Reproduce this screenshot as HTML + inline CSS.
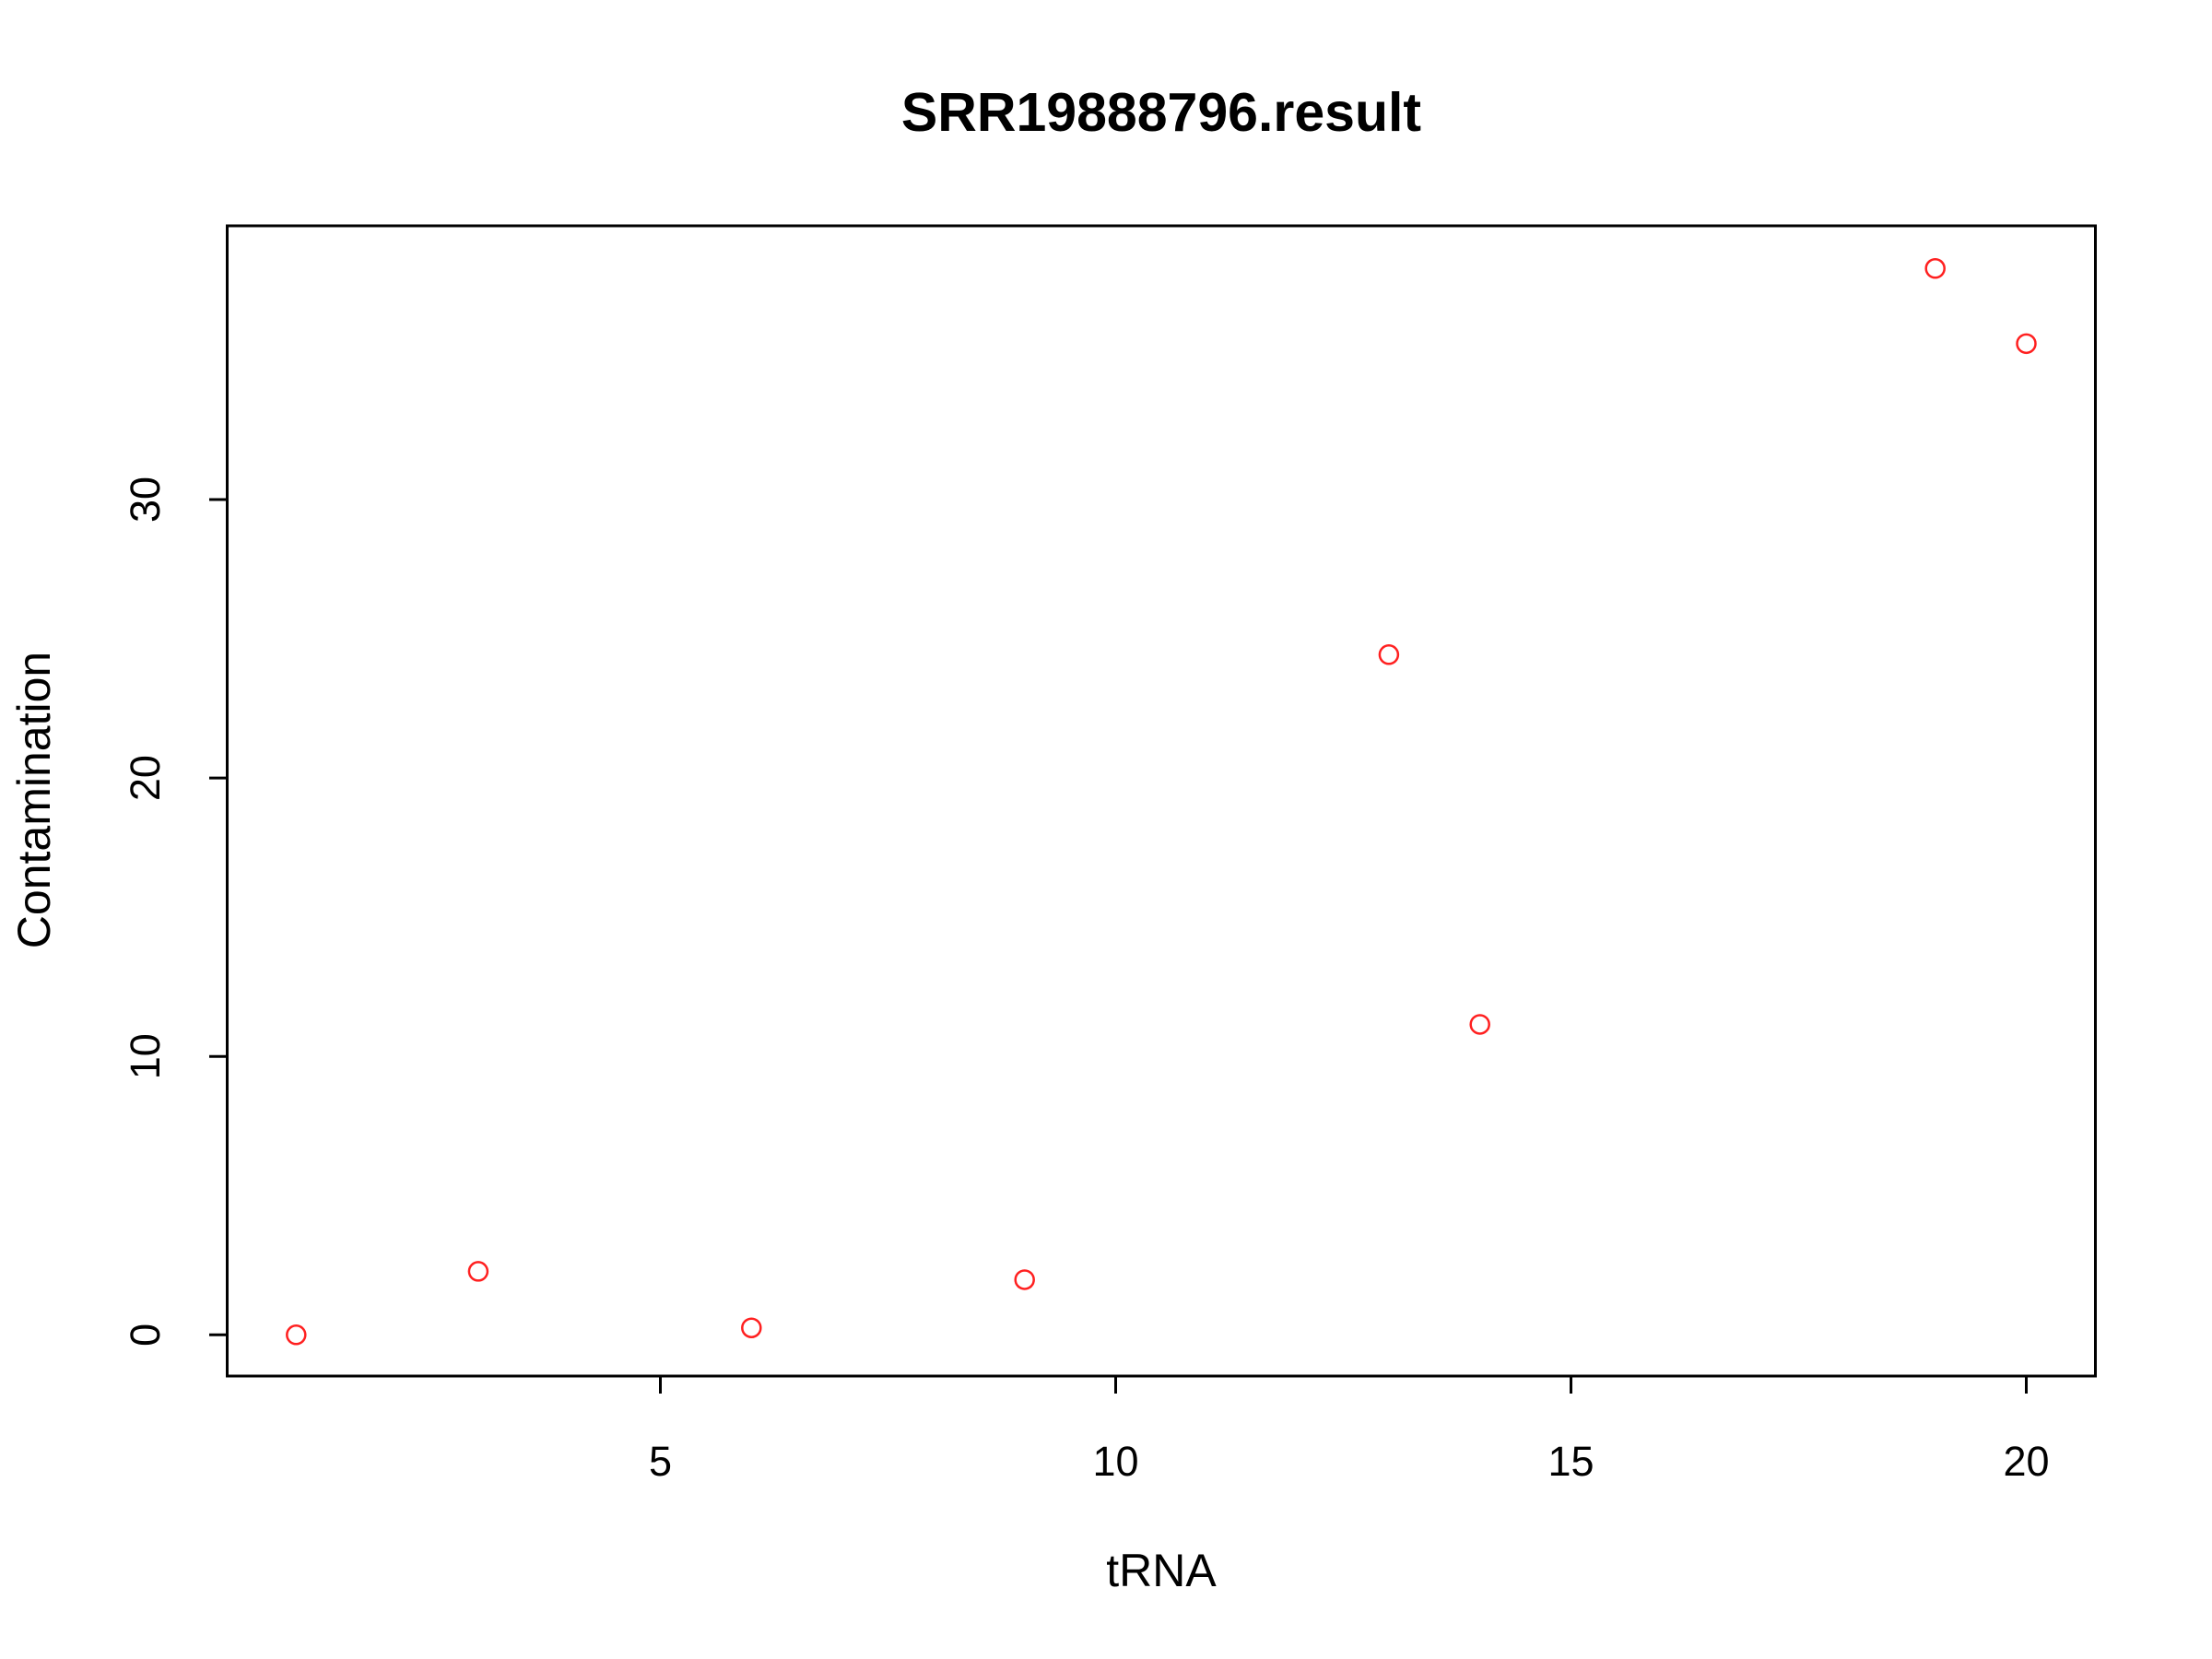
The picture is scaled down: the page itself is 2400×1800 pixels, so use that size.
<!DOCTYPE html>
<html><head><meta charset="utf-8"><style>html,body{margin:0;padding:0;background:#fff}svg{display:block}</style></head>
<body>
<svg width="2400" height="1800" xmlns="http://www.w3.org/2000/svg" font-family="Liberation Sans, sans-serif">
<rect width="2400" height="1800" fill="#fff"/>
<text x="1260" y="142" font-size="59" font-weight="bold" text-anchor="middle">SRR19888796.result</text>
<rect x="246.5" y="245" width="2027" height="1248" fill="none" stroke="#000" stroke-width="3"/>
<g id="xaxis"></g>
<g id="yaxis"></g>
<g id="pts"></g>
<text x="1260" y="1721" font-size="50" text-anchor="middle">tRNA</text>
<text transform="translate(54,868) rotate(-90)" font-size="50" text-anchor="middle">Contamination</text>
</svg>
<script>
const xTicks=[5,10,15,20];
const yTicks=[0,10,20,30];
const xValues=[1,3,6,9,13,14,19,20];
const yValues=[0,2.28,0.25,1.98,24.43,11.15,38.3,35.6];
const NS='http://www.w3.org/2000/svg';
function sx(v){return 716.5+(v-5)*(2198.5-716.5)/15;}
function sy(v){return 1448.3-v*(1448.3-542)/30;}
function mk(t,a,p){const e=document.createElementNS(NS,t);for(const k in a)e.setAttribute(k,a[k]);p.appendChild(e);return e;}
const xa=document.getElementById('xaxis'),ya=document.getElementById('yaxis'),pts=document.getElementById('pts');
mk('line',{x1:sx(xTicks[0]),x2:sx(xTicks[xTicks.length-1]),y1:1493,y2:1493,stroke:'#000','stroke-width':3},xa);
xTicks.forEach(t=>{
 const l=mk('line',{x1:sx(t),x2:sx(t),y1:1493,y2:1512,stroke:'#000','stroke-width':3},xa);
 
 
 const tx=mk('text',{x:sx(t),y:1601,'font-size':45,'text-anchor':'middle'},xa);tx.textContent=t;
 
 
});
mk('line',{x1:246.5,x2:246.5,y1:sy(yTicks[0]),y2:sy(yTicks[yTicks.length-1]),stroke:'#000','stroke-width':3},ya);
yTicks.forEach(t=>{
 const l=mk('line',{x1:227,x2:246.5,y1:sy(t),y2:sy(t),stroke:'#000','stroke-width':3},ya);
 
 
 const tx=mk('text',{transform:`translate(173,${sy(t)}) rotate(-90)`,'font-size':45,'text-anchor':'middle'},ya);tx.textContent=t;
 
 
});
xValues.forEach((x,i)=>{
 const c=mk('circle',{cx:sx(x),cy:sy(yValues[i]),r:10,fill:'none',stroke:'#ff2020','stroke-width':2.5},pts);
 
 
});
</script>
</body></html>
